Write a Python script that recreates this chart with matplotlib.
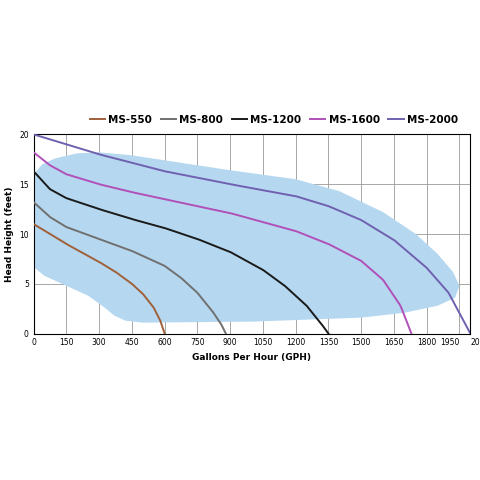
import matplotlib.pyplot as plt
import numpy as np

names = ["MS-550", "MS-800", "MS-1200", "MS-1600", "MS-2000"]
colors = ["#a0603a", "#707070", "#1a1a1a", "#b050b8", "#7060b0"]
gph = [
    [0, 75, 150, 225, 300, 375, 450, 500, 550, 580, 600],
    [0, 75, 150, 300, 450, 600, 675, 750, 820, 860, 880],
    [0, 75, 150, 300, 450, 600, 750, 900, 1050, 1150, 1250, 1320, 1350],
    [0, 75, 150, 300, 450, 600, 900, 1200, 1350, 1500, 1600, 1680, 1730],
    [0, 150, 300, 600, 900, 1200, 1350, 1500, 1650, 1800, 1900, 2000],
]
head = [
    [11, 10, 9, 8.1, 7.2, 6.2, 5, 4, 2.6, 1.3, 0],
    [13.2, 11.7, 10.7, 9.5, 8.3, 6.8, 5.6, 4.1, 2.2, 0.9, 0],
    [16.3, 14.5, 13.6, 12.5, 11.5, 10.6, 9.5, 8.2, 6.4, 4.8, 2.8, 0.9, 0],
    [18.2, 16.9, 16.0, 15.0, 14.2, 13.5, 12.1, 10.3, 9.0, 7.3, 5.4, 2.8, 0],
    [20, 19.0, 18.0, 16.3, 15.0, 13.8, 12.8, 11.4, 9.4, 6.6, 4.1, 0],
]
blob_x = [0, 40, 100, 200, 300, 450, 600, 900, 1200, 1400, 1600, 1750, 1850, 1920, 1950, 1930, 1850, 1700,
          1500, 1000, 500, 420, 370, 320, 250, 150, 50, 10, 0]
blob_y = [16, 17, 17.6, 18.1, 18.2, 17.9, 17.4, 16.4, 15.5, 14.3, 12.2, 10.0, 8.0, 6.2, 4.8, 3.6, 2.8, 2.1,
          1.6, 1.2, 1.1, 1.3, 1.8, 2.7, 3.8, 4.8, 5.8, 6.5, 7]

fig, ax = plt.subplots(figsize=(4.8, 4.8), dpi=100)
fig.subplots_adjust(left=0.07, right=0.98, top=0.72, bottom=0.305)
ax.fill(blob_x, blob_y, color="#b5d8f0", lw=0, zorder=1)
for n, c, x, y in zip(names, colors, gph, head):
    xs = np.linspace(x[0], x[-1], 300)
    ax.plot(xs, np.interp(xs, x, y), color=c, lw=1.4, label=n, zorder=3)
ax.set_xlim(0, 2000)
ax.set_ylim(0, 20)
ticks = [0, 150, 300, 450, 600, 750, 900, 1050, 1200, 1350, 1500, 1650, 1800, 1950, 2000]
ax.set_xticks(ticks)
ax.set_xticklabels([str(t) for t in ticks])
for lab in ax.get_xticklabels()[-2:]:
    lab.set_fontsize(5)
ax.get_xticklabels()[-2].set_horizontalalignment("right")
ax.get_xticklabels()[-1].set_horizontalalignment("left")
ax.set_yticks([0, 5, 10, 15, 20])
ax.tick_params(labelsize=5.5, length=0)
ax.grid(True, color="#999999", lw=0.6, zorder=0)
ax.set_axisbelow(True)
ax.set_xlabel("Gallons Per Hour (GPH)", fontsize=6.5, fontweight="bold")
ax.set_ylabel("Head Height (feet)", fontsize=6.5, fontweight="bold")
ax.legend(loc="lower center", bbox_to_anchor=(0.55, 1.0), ncol=5, frameon=False,
          prop={"size": 7.5, "weight": "bold"}, handlelength=1.5, columnspacing=0.8, handletextpad=0.3)
fig.savefig("out.png")
